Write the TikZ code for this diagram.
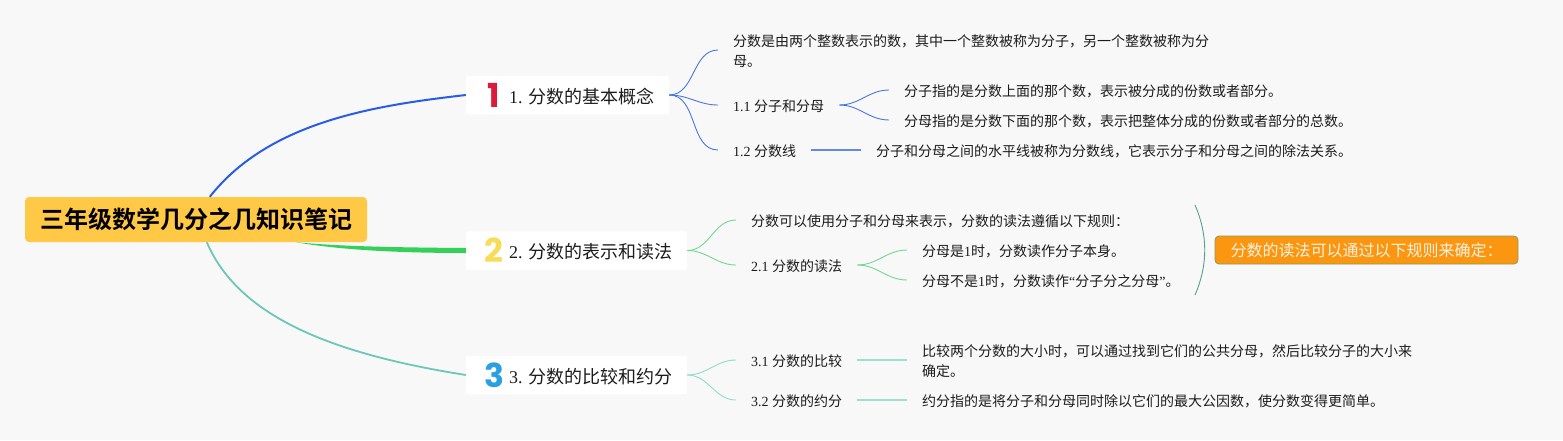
\documentclass[tikz,border=0pt]{standalone}
\usepackage{fontspec}
\setmainfont{Liberation Serif}
\newfontfamily\cjk{Noto Sans CJK SC}[BoldFont={Noto Sans CJK SC Bold}]
\newfontfamily\iconfont{Poppins}[BoldFont={Poppins Bold}]
\usetikzlibrary{calc}
\definecolor{bgc}{HTML}{F8F8F9}
\definecolor{rootc}{HTML}{FFC845}
\definecolor{bluec}{HTML}{2B5CE6}
\definecolor{greenc}{HTML}{34D058}
\definecolor{tealc}{HTML}{6CC8B2}
\definecolor{lblue}{HTML}{4A76E0}
\definecolor{lgreen}{HTML}{74D68F}
\definecolor{lteal}{HTML}{8FDCC8}
\definecolor{inkc}{HTML}{1C1C1C}
\definecolor{onec}{HTML}{DC1A3C}
\definecolor{twoc}{HTML}{F8DC58}
\definecolor{threec}{HTML}{2A9FE2}
\definecolor{notec}{HTML}{FA960F}
\definecolor{noteb}{HTML}{8E9A62}
\newcommand{\zh}[1]{{\cjk #1}}
\tikzset{
  rootbox/.style={fill=rootc,rounded corners=4pt,minimum width=342pt,minimum height=45pt,inner sep=0pt,
    font=\fontsize{24}{28}\selectfont\cjk\bfseries,text=black},
  branchbox/.style={fill=white,rounded corners=2pt,minimum height=38.5pt,inner sep=0pt},
  branchtext/.style={anchor=west,inner sep=0pt,font=\fontsize{18}{22}\selectfont,text=inkc},
  icon/.style={inner sep=0pt,font=\fontsize{33}{36}\selectfont\iconfont\bfseries},
  leaf/.style={anchor=west,inner xsep=15pt,inner ysep=0pt,yshift=-1pt,align=left,font=\fontsize{14}{20}\selectfont,text=inkc},
  notebox/.style={fill=notec,draw=noteb,line width=0.8pt,rounded corners=4pt,minimum width=303pt,minimum height=28pt,inner sep=0pt,
    font=\fontsize{16}{20}\selectfont\cjk,text=white!90!orange},
  lb/.style={draw=lblue,line width=0.9pt},
  lg/.style={draw=lgreen,line width=0.9pt},
  lt/.style={draw=lteal,line width=0.9pt},
  straight/.style={line width=1.2pt,draw opacity=0.85},
  curve/.style={out=0,in=180}
}
\begin{document}
\begin{tikzpicture}[x=1pt,y=-1pt]
\useasboundingbox (0,0) rectangle (1563,440);
\fill[bgc] (0,0) rectangle (1563,440);

\node[rootbox] (root) at (196,219.5) {三年级数学几分之几知识笔记};

\node[branchbox,minimum width=203pt] (b1) at (567.5,95) {};
\node[branchbox,minimum width=221pt] (b2) at (576.5,250.5) {};
\node[branchbox,minimum width=221pt] (b3) at (576.5,375) {};

\node[icon,text=onec] (i1) at (494,95) {1};
\node[icon,text=twoc] (i2) at (494,250.5) {2};
\node[icon,text=threec] (i3) at (494,375) {3};

\node[branchtext] (t1) at (509,97) {1. \zh{分数的基本概念}};
\node[branchtext] (t2) at (509,252) {2. \zh{分数的表示和读法}};
\node[branchtext] (t3) at (509,377) {3. \zh{分数的比较和约分}};

% main branches
\draw[bluec,line width=2pt] ($(root.north west)+(185,0)$) .. controls (270,120) and (380,105) .. (b1.west);
\fill[greenc] ($(root.south west)+(271,0)$) .. controls (340,246.5) and (400,247.5) .. ($(b2.west)+(0,-2.5)$)
  -- ($(b2.west)+(0,2.5)$) .. controls (400,253) and (340,250) .. ($(root.south west)+(271,0)$) -- cycle;
\draw[tealc,line width=1.8pt] ($(root.south west)+(182,0)$) .. controls (240,320) and (340,355) .. (b3.west);

% branch 1
\node[leaf] (a0) at (718,50) {\zh{分数是由两个整数表示的数，其中一个整数被称为分子，另一个整数被称为分}\\\zh{母。}};
\node[leaf] (a1) at (718,105) {1.1 \zh{分子和分母}};
\node[leaf] (a2) at (718,150) {1.2 \zh{分数线}};
\node[leaf] (a11) at (889,90) {\zh{分子指的是分数上面的那个数，表示被分成的份数或者部分。}};
\node[leaf] (a12) at (889,120) {\zh{分母指的是分数下面的那个数，表示把整体分成的份数或者部分的总数。}};
\node[leaf] (a21) at (861,150) {\zh{分子和分母之间的水平线被称为分数线，它表示分子和分母之间的除法关系。}};
\draw[lb] (b1.east) to[curve] ([yshift=1pt]a0.west);
\draw[lb] (b1.east) to[curve] ([yshift=1pt]a1.west);
\draw[lb] (b1.east) to[curve] ([yshift=1pt]a2.west);
\draw[lb] ([yshift=1pt]a1.east) to[curve] ([yshift=1pt]a11.west);
\draw[lb] ([yshift=1pt]a1.east) to[curve] ([yshift=1pt]a12.west);
\draw[lb,straight] ([yshift=1pt]a2.east) -- ([yshift=1pt]a21.west);

% branch 2
\node[leaf] (c0) at (736,220) {\zh{分数可以使用分子和分母来表示，分数的读法遵循以下规则：}};
\node[leaf] (c1) at (736,265) {2.1 \zh{分数的读法}};
\node[leaf] (c11) at (907,250) {\zh{分母是}1\zh{时，分数读作分子本身。}};
\node[leaf] (c12) at (907,280) {\zh{分母不是}1\zh{时，分数读作}“\zh{分子分之分母}”\zh{。}};
\draw[lg] (b2.east) to[curve] ([yshift=1pt]c0.west);
\draw[lg] (b2.east) to[curve] ([yshift=1pt]c1.west);
\draw[lg] ([yshift=1pt]c1.east) to[curve] ([yshift=1pt]c11.west);
\draw[lg] ([yshift=1pt]c1.east) to[curve] ([yshift=1pt]c12.west);
\coordinate (bt) at (1195,205);
\coordinate (bb) at (1195,295);
\draw[draw=tealc!80!black,line width=0.9pt] (bt) .. controls (1208,235) and (1208,265) .. (bb);
\node[notebox] (n) at (1366.5,250) {分数的读法可以通过以下规则来确定：};

% branch 3
\node[leaf] (d1) at (736,360) {3.1 \zh{分数的比较}};
\node[leaf] (d2) at (736,400) {3.2 \zh{分数的约分}};
\node[leaf] (d11) at (907,360) {\zh{比较两个分数的大小时，可以通过找到它们的公共分母，然后比较分子的大小来}\\\zh{确定。}};
\node[leaf] (d21) at (907,400) {\zh{约分指的是将分子和分母同时除以它们的最大公因数，使分数变得更简单。}};
\draw[lt] (b3.east) to[curve] ([yshift=1pt]d1.west);
\draw[lt] (b3.east) to[curve] ([yshift=1pt]d2.west);
\draw[lt,straight] ([yshift=1pt]d1.east) -- ([yshift=1pt]d11.west);
\draw[lt,straight] ([yshift=1pt]d2.east) -- ([yshift=1pt]d21.west);
\end{tikzpicture}
\end{document}
